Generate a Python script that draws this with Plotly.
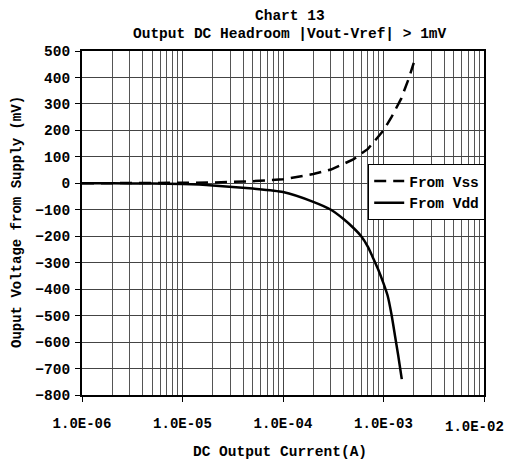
import plotly.graph_objects as go

# DC output current (A) and headroom (mV)
current_vss = [1e-6, 2e-6, 5e-6, 1e-5, 2e-5, 5e-5, 1e-4, 2e-4, 3e-4, 5e-4,
               7e-4, 1e-3, 1.2e-3, 1.5e-3, 1.8e-3, 2e-3]
from_vss = [0, 0, 1, 2, 3, 8, 15, 35, 52, 90, 130, 200, 250, 320, 400, 455]

current_vdd = [1e-6, 2e-6, 5e-6, 1e-5, 2e-5, 5e-5, 1e-4, 2e-4, 3e-4, 4e-4,
               5e-4, 6e-4, 7e-4, 8e-4, 9e-4, 1e-3, 1.1e-3, 1.2e-3, 1.3e-3,
               1.4e-3, 1.52e-3]
from_vdd = [0, 0, -1, -3, -8, -20, -33, -70, -100, -135, -168, -200, -240,
            -288, -332, -378, -425, -495, -575, -650, -740]

x_tickvals = [1e-6, 1e-5, 1e-4, 1e-3, 1e-2]
x_ticktext = ["1.0E-06", "1.0E-05", "1.0E-04", "1.0E-03", "1.0E-02"]
x_minor = [m * d for d in x_tickvals[:-1] for m in range(2, 10)]

FONT = "Liberation Mono, Courier New, monospace"

# page body adds an 8px offset, so the figure is 8px smaller
W, H = 506, 452
L, R, T, B = 74, 30, 43, 65
pw, ph = W - L - R, H - T - B


def px(x):
    return (x - L) / pw


def py(y):
    return (H - B - y) / ph


fig = go.Figure()
fig.add_trace(go.Scatter(
    x=current_vss, y=from_vss, name="From Vss", mode="lines",
    line=dict(color="black", width=2.5, dash="12px,7px"),
))
fig.add_trace(go.Scatter(
    x=current_vdd, y=from_vdd, name="From Vdd", mode="lines",
    line=dict(color="black", width=2.5, shape="spline", smoothing=0.6),
))

fig.update_layout(
    width=W, height=H,
    margin=dict(l=L, r=R, t=T, b=B),
    paper_bgcolor="white", plot_bgcolor="white",
    font=dict(family=FONT, size=14, color="black", weight="bold"),
    showlegend=True,
    legend=dict(
        x=1.003, xanchor="right", y=py(156), yanchor="top",
        bgcolor="white", bordercolor="black", borderwidth=1,
        font=dict(family=FONT, size=14.5, color="black", weight="bold"),
        tracegroupgap=0,
    ),
    annotations=[
        dict(text="Chart 13", x=px(282), y=py(8), xref="paper", yref="paper",
             xanchor="center", yanchor="middle",
             showarrow=False, font=dict(size=14.5)),
        dict(text="Output DC Headroom |Vout-Vref| > 1mV", x=px(282), y=py(26),
             xref="paper", yref="paper", xanchor="center", yanchor="middle",
             showarrow=False, font=dict(size=14.5)),
        dict(text="DC Output Current(A)", x=px(272), y=py(444),
             xref="paper", yref="paper", xanchor="center", yanchor="middle",
             showarrow=False, font=dict(size=14.5)),
        dict(text="Ouput Voltage from Supply (mV)", x=px(9), y=py(214),
             xref="paper", yref="paper", xanchor="center", yanchor="middle",
             textangle=-90, showarrow=False, font=dict(size=14)),
        # last tick label kept inside the visible page
        dict(text=x_ticktext[-1], x=px(498), y=py(419),
             xref="paper", yref="paper", xanchor="right", yanchor="middle",
             showarrow=False, font=dict(size=14)),
    ],
)

fig.update_xaxes(
    type="log", range=[-6, -2], automargin=False,
    tickvals=x_tickvals, ticktext=x_ticktext[:-1] + [""],
    ticks="outside", ticklen=5, tickcolor="black", ticklabelstandoff=9,
    showgrid=True, gridcolor="#444", gridwidth=1,
    minor=dict(tickvals=x_minor, showgrid=True, gridcolor="#555",
               gridwidth=1, ticks=""),
    showline=True, linecolor="black", linewidth=2, mirror=True,
    tickfont=dict(size=14),
)
fig.update_yaxes(
    range=[-800, 500], dtick=100, automargin=False,
    ticks="outside", ticklen=5, tickcolor="black", ticklabelstandoff=2,
    showgrid=True, gridcolor="#444", gridwidth=1,
    zeroline=False,
    showline=True, linecolor="black", linewidth=2, mirror=True,
    tickfont=dict(size=14.5),
)

fig.write_html("out.html")
